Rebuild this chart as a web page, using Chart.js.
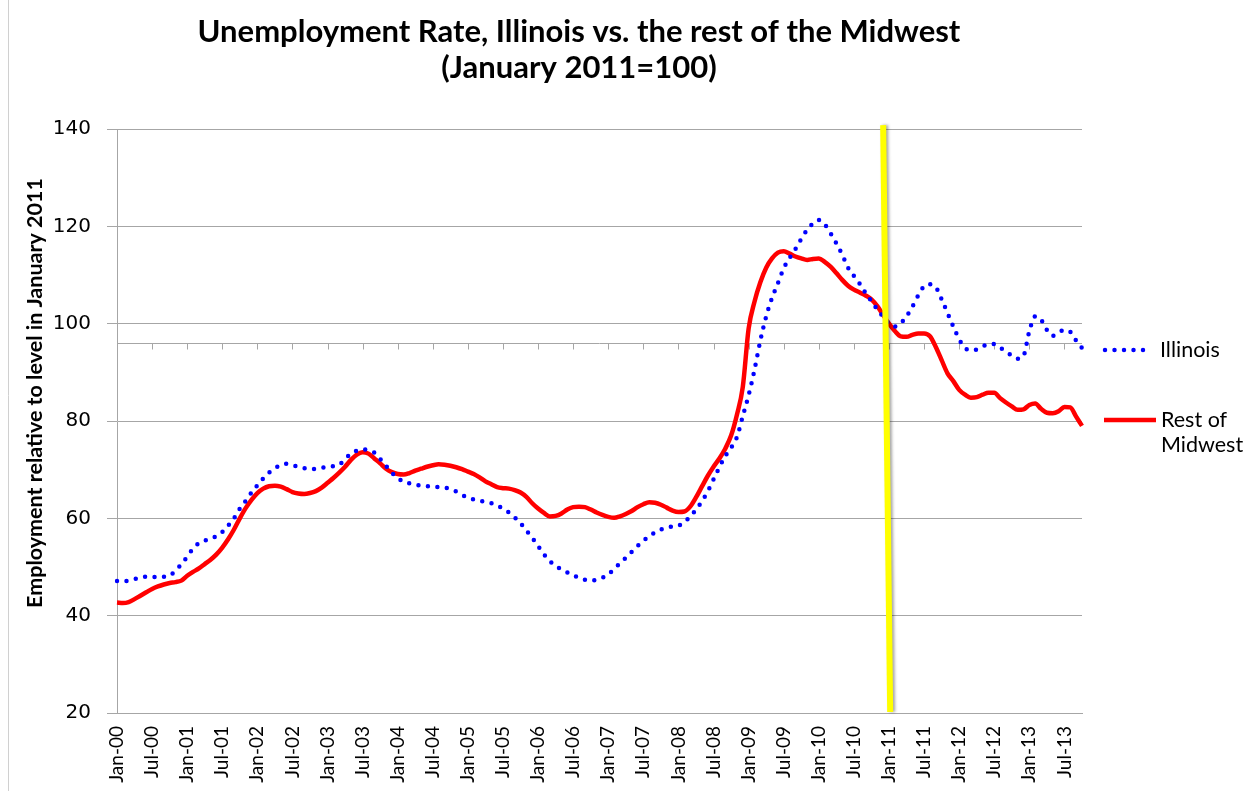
<!DOCTYPE html>
<html>
<head>
<meta charset="utf-8">
<script src="https://cdn.jsdelivr.net/npm/chart.js@4"></script>
<style>
  body { margin: 0; background: #fff; }
  #wrap { position: relative; width: 1250px; height: 791px; }
</style>
</head>
<body>
<div id="wrap"><canvas id="unempChart"></canvas></div>
<script>
// month labels Jan-00 .. Oct-13
const monthNames = ['Jan', 'Feb', 'Mar', 'Apr', 'May', 'Jun', 'Jul', 'Aug', 'Sep', 'Oct', 'Nov', 'Dec'];
const months = [];
for (let yr = 0; yr <= 13; yr++) {
    for (let m = 0; m < 12; m++) {
        if (months.length < 166) months.push(monthNames[m] + '-' + String(yr).padStart(2, '0'));
    }
}

// values (January 2011 = 100)
const illinois = [
    47.1, 47.1, 47.2, 47.5, 47.8, 48.0, 48.0, 47.9, 48.0, 48.3,
    49.2, 50.6, 52.1, 53.8, 54.9, 55.4, 55.9, 56.3, 57.2, 58.5,
    60.0, 62.0, 63.6, 65.3, 66.8, 68.2, 69.4, 70.3, 71.0, 71.2,
    70.9, 70.6, 70.3, 70.1, 70.2, 70.4, 70.5, 70.7, 71.0, 72.2,
    73.3, 73.9, 74.2, 74.0, 73.5, 72.2, 70.8, 69.4, 68.3, 67.5,
    67.2, 66.9, 66.7, 66.6, 66.5, 66.4, 66.3, 66.0, 65.5, 64.8,
    64.3, 63.9, 63.6, 63.4, 63.1, 62.6, 62.0, 61.2, 60.2, 59.0,
    57.5, 56.0, 54.3, 52.6, 51.2, 50.2, 49.5, 48.9, 48.3, 47.8,
    47.4, 47.2, 47.4, 47.8, 48.5, 49.6, 50.8, 51.9, 53.1, 54.3,
    55.4, 56.3, 57.1, 57.7, 58.1, 58.3, 58.5, 59.2, 60.4, 61.8,
    63.5, 65.5, 68.0, 70.5, 72.8, 74.5, 76.7, 81.0, 85.3, 90.5,
    96.5, 101.5, 105.3, 108.3, 111.4, 113.5, 115.3, 117.4, 119.3, 120.6,
    121.3, 120.4, 118.6, 116.5, 114.2, 111.5, 109.8, 108.2, 106.3, 104.6,
    102.9, 101.4, 100.0, 99.4, 100.1, 101.5, 103.5, 105.8, 107.7, 108.1,
    107.5, 105.0, 102.2, 99.4, 96.8, 95.0, 94.6, 94.7, 95.3, 95.8,
    95.8, 95.1, 94.2, 93.5, 92.8, 93.4, 98.5, 101.5, 100.8, 98.7,
    97.5, 98.2, 98.7, 98.3, 96.5, 95.0
];
const restOfMidwest = [
    42.7, 42.6, 42.8, 43.4, 44.1, 44.8, 45.5, 46.0, 46.4, 46.7,
    46.9, 47.2, 48.2, 49.0, 49.7, 50.6, 51.5, 52.6, 54.0, 55.7,
    57.7, 60.0, 62.1, 63.8, 65.2, 66.1, 66.6, 66.7, 66.5, 66.0,
    65.4, 65.1, 65.0, 65.2, 65.6, 66.3, 67.3, 68.3, 69.4, 70.6,
    72.0, 73.1, 73.6, 73.3, 72.3, 71.3, 70.2, 69.5, 69.1, 69.0,
    69.3, 69.8, 70.2, 70.6, 70.9, 71.1, 71.0, 70.8, 70.5, 70.1,
    69.6, 69.1, 68.4, 67.6, 67.0, 66.4, 66.2, 66.1, 65.8, 65.3,
    64.4, 63.1, 62.0, 61.1, 60.4, 60.5, 61.0, 61.8, 62.3, 62.4,
    62.3, 61.8, 61.2, 60.7, 60.3, 60.1, 60.4, 60.9, 61.5, 62.3,
    62.9, 63.3, 63.2, 62.8, 62.2, 61.6, 61.3, 61.4, 62.4, 64.3,
    66.5, 68.7, 70.6, 72.3, 74.3, 77.0, 81.3, 87.0, 99.0, 104.5,
    108.5, 111.5, 113.4, 114.6, 114.9, 114.4, 113.8, 113.4, 113.1, 113.3,
    113.4, 112.7, 111.7, 110.4, 109.0, 107.8, 107.0, 106.4, 105.8, 105.0,
    103.6, 101.8, 100.0, 98.5, 97.4, 97.3, 97.7, 98.0, 98.0, 97.4,
    95.2, 92.5, 89.8, 88.2, 86.4, 85.4, 84.8, 84.9, 85.4, 85.8,
    85.8, 84.7, 83.8, 83.0, 82.3, 82.4, 83.3, 83.6, 82.5, 81.7,
    81.6, 82.0, 82.9, 82.8, 80.9, 79.0
];
const yTicks = [20, 40, 60, 80, 100, 120, 140];
const baseLine = 96;          // stray axis line drawn across the plot
const markerStart = 131.0;    // yellow marker, top end (month index)
const markerEnd = 132.2;      // yellow marker, bottom end

const gridGrey = '#a6a6a6';

const decor = {
    id: 'decor',
    beforeDatasetsDraw(chart) {
        let ctx = chart.ctx;
        let x = chart.scales.x, y = chart.scales.y;
        let yy = Math.round(y.getPixelForValue(baseLine)) + 0.5;
        ctx.save();
        ctx.strokeStyle = gridGrey;
        ctx.lineWidth = 1;
        ctx.beginPath();
        ctx.moveTo(chart.chartArea.left, yy);
        ctx.lineTo(chart.chartArea.right, yy);
        for (let i = 6; i < months.length; i += 6) {
            let xx = Math.round(x.getPixelForValue(i)) + 0.5;
            ctx.moveTo(xx, yy);
            ctx.lineTo(xx, yy + 6);
        }
        ctx.stroke();
        ctx.restore();
    },
    afterDatasetsDraw(chart) {
        let ctx = chart.ctx;
        let x = chart.scales.x, y = chart.scales.y;
        ctx.save();
        ctx.shadowColor = 'rgba(0,0,0,0.35)';
        ctx.shadowOffsetX = 2;
        ctx.shadowBlur = 3;
        ctx.strokeStyle = '#ffff00';
        ctx.lineWidth = 6;
        ctx.beginPath();
        ctx.moveTo(x.getPixelForValue(markerStart), y.getPixelForValue(140.8));
        ctx.lineTo(x.getPixelForValue(markerEnd), y.getPixelForValue(20.2));
        ctx.stroke();
        ctx.restore();
    },
    afterDraw(chart) {
        let ctx = chart.ctx;
        ctx.save();
        // frame line on the left
        ctx.strokeStyle = '#d0d0d0';
        ctx.lineWidth = 1;
        ctx.beginPath();
        ctx.moveTo(8.5, 0);
        ctx.lineTo(8.5, 791);
        ctx.stroke();

        // title
        ctx.fillStyle = '#000';
        ctx.textAlign = 'center';
        ctx.textBaseline = 'middle';
        ctx.font = 'bold 31px Lato';
        ctx.fillText('Unemployment Rate, Illinois vs. the rest of the Midwest', 579, 32);
        ctx.fillText('(January 2011=100)', 579, 68);

        // y axis title
        ctx.save();
        ctx.translate(35, 393);
        ctx.rotate(-Math.PI / 2);
        ctx.font = 'bold 21.5px Lato';
        ctx.fillText('Employment relative to level in January 2011', 0, 0);
        ctx.restore();

        // legend
        ctx.textAlign = 'left';
        ctx.font = '21.5px Lato';
        ctx.strokeStyle = '#0000ff';
        ctx.lineWidth = 4.5;
        ctx.lineCap = 'round';
        ctx.setLineDash([0, 9.5]);
        ctx.beginPath();
        ctx.moveTo(1105, 350);
        ctx.lineTo(1148, 350);
        ctx.stroke();
        ctx.setLineDash([]);
        ctx.fillText('Illinois', 1160, 350);

        ctx.strokeStyle = '#ff0000';
        ctx.lineCap = 'butt';
        ctx.beginPath();
        ctx.moveTo(1104, 420);
        ctx.lineTo(1156, 420);
        ctx.stroke();
        ctx.fillText('Rest of', 1161, 420);
        ctx.fillText('Midwest', 1161, 445);
        ctx.restore();
    }
};

let ctx = document.getElementById('unempChart').getContext('2d');
let unempChart = new Chart(ctx, {
    type: 'line',
    data: {
        labels: months,
        datasets: [{
            label: 'Illinois',
            data: illinois,
            borderColor: '#0000ff',
            borderWidth: 4.5,
            borderDash: [0, 9.5],
            borderCapStyle: 'round',
            pointRadius: 0,
            cubicInterpolationMode: 'monotone',
            fill: false
        }, {
            label: 'Rest of Midwest',
            data: restOfMidwest,
            borderColor: '#ff0000',
            borderWidth: 4.5,
            borderJoinStyle: 'round',
            pointRadius: 0,
            cubicInterpolationMode: 'monotone',
            fill: false
        }]
    },
    options: {
        responsive: true,
        maintainAspectRatio: false,
        animation: false,
        layout: {
            padding: { top: 129, right: 168, left: 0, bottom: 0 }
        },
        plugins: {
            legend: { display: false },
            title: { display: false },
            tooltip: { enabled: false }
        },
        scales: {
            x: {
                type: 'category',
                offset: false,
                afterFit: function (scale) { scale.height = 78; },
                grid: { display: false, drawTicks: false },
                border: { display: true, color: gridGrey },
                ticks: {
                    autoSkip: false,
                    minRotation: 90,
                    maxRotation: 90,
                    padding: 13,
                    color: '#000',
                    font: { family: 'Lato', size: 19 },
                    callback: function (val, i) {
                        return i % 6 === 0 ? this.getLabelForValue(val) : '';
                    }
                }
            },
            y: {
                min: 20,
                max: 140,
                afterFit: function (scale) { scale.width = 117; },
                afterBuildTicks: function (scale) {
                    scale.ticks = yTicks.map(v => ({ value: v }));
                },
                grid: { color: gridGrey, lineWidth: 1, tickLength: 10 },
                border: { display: true, color: gridGrey },
                ticks: {
                    padding: 16,
                    color: '#000',
                    font: { family: 'DejaVu Sans', size: 20 }
                }
            }
        }
    },
    plugins: [decor]
});
</script>
</body>
</html>
